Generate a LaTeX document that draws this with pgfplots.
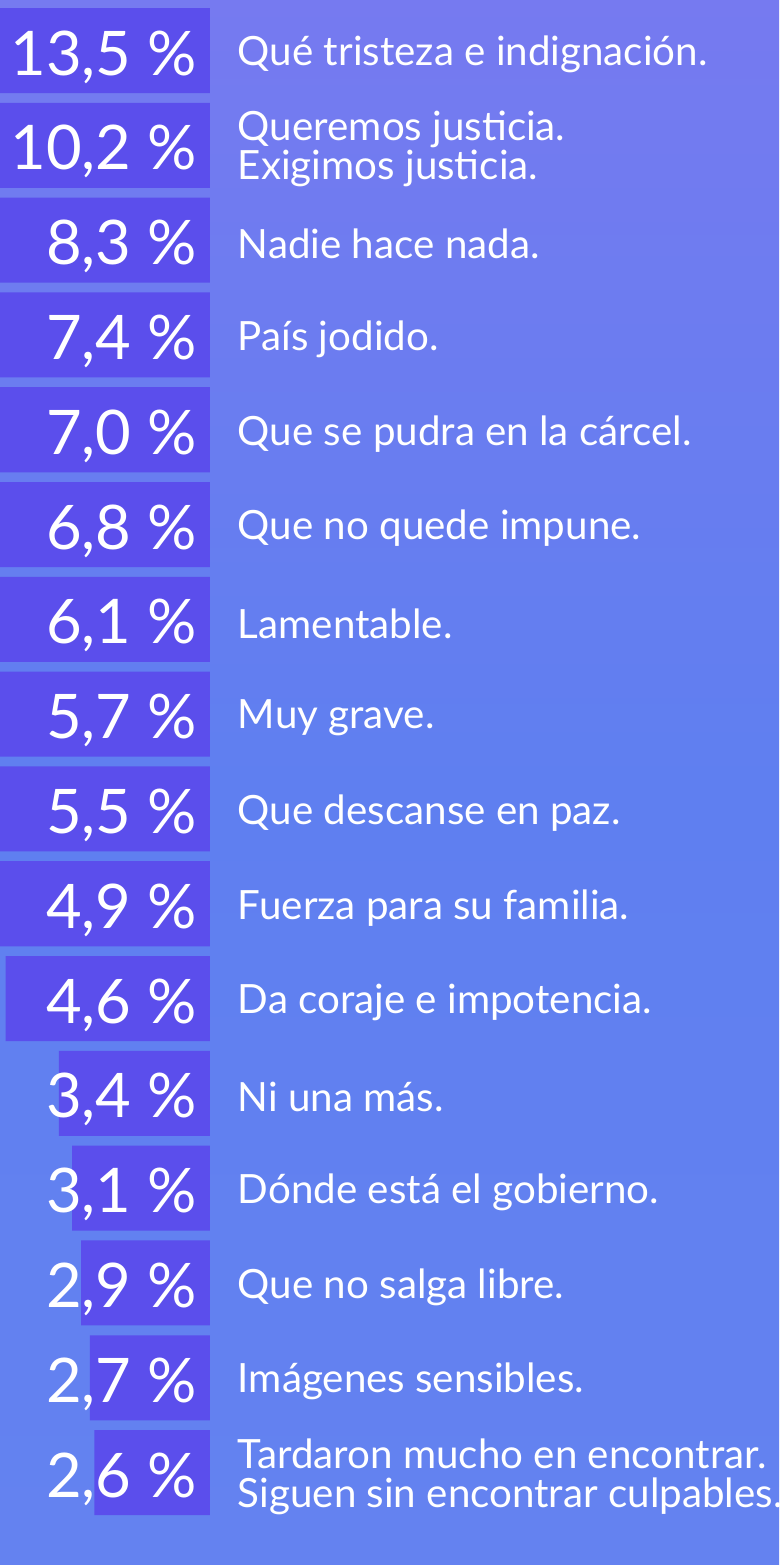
\documentclass[border=0pt]{standalone}
\usepackage{fontspec}
\setmainfont{Lato}
\usepackage{pgfplots}
\pgfplotsset{compat=1.18}
\definecolor{barc}{HTML}{5B4EEC}
\definecolor{bgtop}{HTML}{767AF0}
\definecolor{bgmid}{HTML}{5F7FF0}
\definecolor{bgbot}{HTML}{6482F0}
\newcommand\labfont{\fontsize{40.3bp}{39bp}\selectfont}
\newcommand\numfont{\fontsize{61.5bp}{61bp}\selectfont}
\begin{document}
\begin{tikzpicture}
\begin{axis}[
  width=779bp, height=1565bp, scale only axis,
  x dir=reverse, y dir=reverse,
  xmin=-12.805, xmax=4.725,
  ymin=-0.533, ymax=15.975,
  axis lines=none, xtick=\empty, ytick=\empty,
  axis background/.style={top color=bgtop, bottom color=bgbot, middle color=bgmid},
  clip=true,
]
\addplot[xbar, bar width=0.897, fill=barc, draw=none] coordinates {
(13.5,0) (10.2,1) (8.3,2) (7.4,3) (7.0,4) (6.8,5) (6.1,6) (5.7,7)
(5.5,8) (4.9,9) (4.6,10) (3.4,11) (3.1,12) (2.9,13) (2.7,14) (2.6,15)
};
\addplot[draw=none, mark=none, point meta=explicit,
  nodes near coords={\pgfmathprintnumber[assume math mode=true,use comma,fixed,fixed zerofill,precision=1]{\pgfplotspointmeta}~\%},
  nodes near coords style={anchor=base east, inner sep=0pt, yshift=-24.5bp, text=white, font=\numfont}]
coordinates {
(0.3,0)[13.5] (0.3,1)[10.2] (0.3,2)[8.3] (0.3,3)[7.4] (0.3,4)[7.0] (0.3,5)[6.8]
(0.3,6)[6.1] (0.3,7)[5.7] (0.3,8)[5.5] (0.3,9)[4.9] (0.3,10)[4.6] (0.3,11)[3.4]
(0.3,12)[3.1] (0.3,13)[2.9] (0.3,14)[2.7] (0.3,15)[2.6]
};
\addplot[draw=none, mark=none, point meta=explicit symbolic,
  nodes near coords,
  nodes near coords style={anchor=west, align=left, inner sep=0pt, yshift=-4bp, text=white, font=\labfont}]
coordinates {
(-0.625,0)[Qué tristeza e indignación.]
(-0.625,1)[Queremos justicia.\\Exigimos justicia.]
(-0.625,2)[Nadie hace nada.]
(-0.625,3)[País jodido.]
(-0.625,4)[Que se pudra en la cárcel.]
(-0.625,5)[Que no quede impune.]
(-0.625,6)[Lamentable.]
(-0.625,7)[Muy grave.]
(-0.625,8)[Que descanse en paz.]
(-0.625,9)[Fuerza para su familia.]
(-0.625,10)[Da coraje e impotencia.]
(-0.625,11)[Ni una más.]
(-0.625,12)[Dónde está el gobierno.]
(-0.625,13)[Que no salga libre.]
(-0.625,14)[Imágenes sensibles.]
(-0.625,15)[Tardaron mucho en encontrar.\\Siguen sin encontrar culpables.]
};
\end{axis}
\pgfresetboundingbox
\path[use as bounding box] (current axis.south west) rectangle (current axis.north east);
\end{tikzpicture}
\end{document}
